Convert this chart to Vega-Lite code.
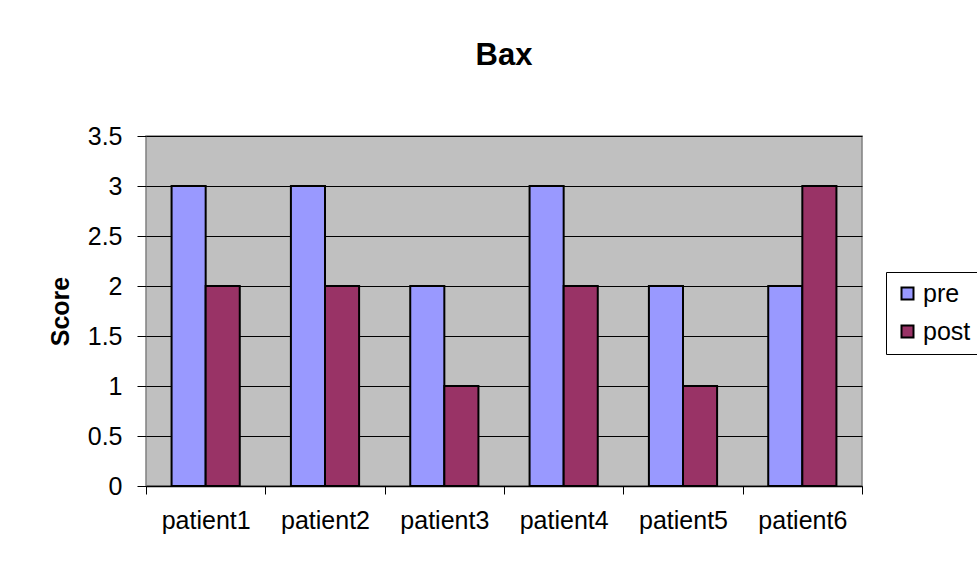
{
  "$schema": "https://vega.github.io/schema/vega-lite/v6.json",
  "autosize": "none",
  "width": 716,
  "height": 350,
  "padding": {"left": 146, "top": 136, "right": 115, "bottom": 77},
  "background": "white",
  "title": {
    "text": "Bax",
    "fontSize": 31,
    "fontWeight": "bold",
    "font": "Liberation Sans",
    "color": "black",
    "anchor": "middle",
    "offset": 52
  },
  "data": {
    "values": [
      {"patient": "patient1", "phase": "pre", "score": 3},
      {"patient": "patient1", "phase": "post", "score": 2},
      {"patient": "patient2", "phase": "pre", "score": 3},
      {"patient": "patient2", "phase": "post", "score": 2},
      {"patient": "patient3", "phase": "pre", "score": 2},
      {"patient": "patient3", "phase": "post", "score": 1},
      {"patient": "patient4", "phase": "pre", "score": 3},
      {"patient": "patient4", "phase": "post", "score": 2},
      {"patient": "patient5", "phase": "pre", "score": 2},
      {"patient": "patient5", "phase": "post", "score": 1},
      {"patient": "patient6", "phase": "pre", "score": 2},
      {"patient": "patient6", "phase": "post", "score": 3}
    ]
  },
  "mark": {"type": "bar", "stroke": "black", "strokeWidth": 2},
  "encoding": {
    "x": {
      "field": "patient",
      "type": "nominal",
      "scale": {"paddingInner": 0, "paddingOuter": 0},
      "axis": {
        "title": null,
        "labelAngle": 0,
        "tickBand": "extent",
        "tickSize": 8,
        "tickColor": "black",
        "domainColor": "black",
        "domainWidth": 1.5,
        "labelPadding": 14,
        "labelFontSize": 25,
        "labelFont": "Liberation Sans",
        "labelColor": "black"
      }
    },
    "xOffset": {
      "field": "phase",
      "type": "nominal",
      "sort": ["pre", "post"],
      "scale": {"paddingInner": 0, "paddingOuter": 0.75}
    },
    "y": {
      "field": "score",
      "type": "quantitative",
      "scale": {"domain": [0, 3.5]},
      "axis": {
        "title": "Score",
        "titleFontSize": 25,
        "titleFont": "Liberation Sans",
        "titleFontWeight": "bold",
        "titleColor": "black",
        "titlePadding": 14,
        "values": [0, 0.5, 1, 1.5, 2, 2.5, 3, 3.5],
        "format": "~g",
        "domain": false,
        "grid": true,
        "gridColor": "black",
        "gridWidth": 1,
        "gridOpacity": 1,
        "tickSize": 9,
        "tickColor": "black",
        "labelPadding": 15,
        "labelFontSize": 25,
        "labelFont": "Liberation Sans",
        "labelColor": "black"
      }
    },
    "color": {
      "field": "phase",
      "type": "nominal",
      "sort": ["pre", "post"],
      "scale": {"domain": ["pre", "post"], "range": ["#9999FF", "#993366"]},
      "legend": {
        "title": null,
        "orient": "none",
        "legendX": 740,
        "legendY": 136,
        "symbolType": "square",
        "symbolSize": 144,
        "symbolStrokeColor": "black",
        "symbolStrokeWidth": 2,
        "symbolOpacity": 1,
        "labelFontSize": 25,
        "labelFont": "Liberation Sans",
        "labelColor": "black",
        "labelOffset": 3,
        "rowPadding": 12,
        "padding": 9,
        "strokeColor": "black",
        "fillColor": "white"
      }
    }
  },
  "config": {
    "view": {"fill": "#C0C0C0", "stroke": "#808080", "strokeWidth": 1.5}
  }
}
